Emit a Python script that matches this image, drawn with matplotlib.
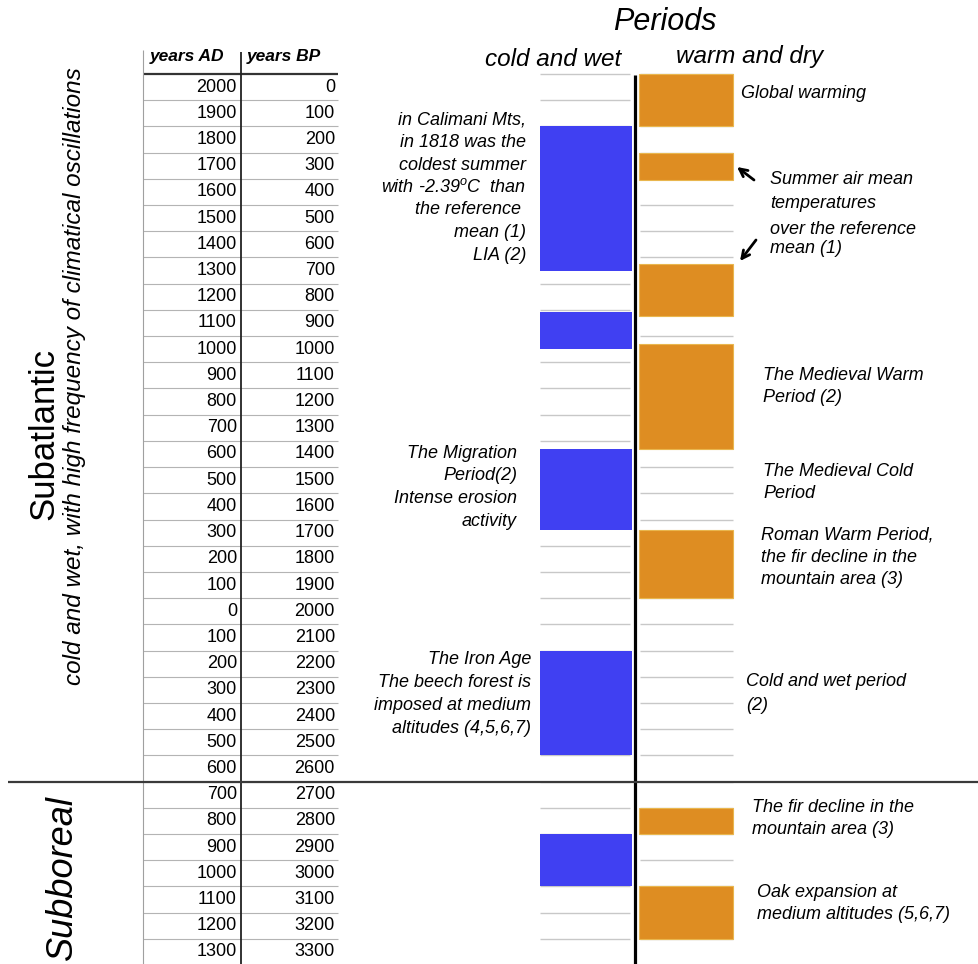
import matplotlib.pyplot as plt

plt.rcParams['font.family'] = ['Liberation Sans', 'DejaVu Sans']
plt.rcParams['mathtext.fontset'] = 'custom'
plt.rcParams['mathtext.rm'] = 'Liberation Sans'
plt.rcParams['mathtext.it'] = 'Liberation Sans:italic'

# table columns (years AD / BC shown without sign, years BP)
years_ad = ['2000', '1900', '1800', '1700', '1600', '1500', '1400', '1300', '1200',
            '1100', '1000', '900', '800', '700', '600', '500', '400', '300', '200',
            '100', '0', '100', '200', '300', '400', '500', '600', '700', '800', '900',
            '1000', '1100', '1200', '1300']
years_bp = [0, 100, 200, 300, 400, 500, 600, 700, 800, 900, 1000, 1100, 1200, 1300,
            1400, 1500, 1600, 1700, 1800, 1900, 2000, 2100, 2200, 2300, 2400, 2500,
            2600, 2700, 2800, 2900, 3000, 3100, 3200, 3300]

# periods in years BP (start, end)
warm_start = [-50, 250, 675, 980, 1690, 2750, 3050]
warm_end = [150, 355, 875, 1380, 1950, 2850, 3250]
cold_start = [150, 860, 1380, 2150, 2850]
cold_end = [700, 1000, 1690, 2550, 3050]
subatlantic_end = 2650

W, H = 979, 964
TOP = 74          # pixel row of table header rule
ROW = 891 / 34    # pixels per row (100 years)
BLUE = '#4040F2'
ORANGE = '#DE8D22'


def bp(y):
    # pixel row -> years BP on the axis
    return (y - TOP) / ROW * 100 - 50


fig = plt.figure(figsize=(9.79, 9.64), dpi=100)
ax = fig.add_axes([0, 0, 1, 1])
ax.set_xlim(0, W)
ax.set_ylim(bp(H), bp(0))
ax.axis('off')

bounds = [b - 50 for b in years_bp] + [years_bp[-1] + 50]

# table
ax.hlines(bounds[1:], 143, 338, color='#b4b4b4', lw=0.8)
ax.hlines(bounds[0], 143, 338, color='#333333', lw=1.6)
ax.vlines(143, bp(50), bp(H), color='#a0a0a0', lw=0.8)
ax.vlines(241, bp(52), bp(H), color='#222222', lw=1.3)
ax.text(150, bp(56), 'years AD', fontsize=12.5, fontweight='bold', style='italic',
        ha='left', va='center')
ax.text(247, bp(56), 'years BP', fontsize=12.5, fontweight='bold', style='italic',
        ha='left', va='center')
for ad, b in zip(years_ad, years_bp):
    ax.text(237, b, ad, ha='right', va='center', fontsize=13)
    ax.text(335, b, str(b), ha='right', va='center', fontsize=13)

# grid of the period columns (behind the bars)
ax.hlines(bounds, 540, 630, color='#c8c8c8', lw=1, zorder=1)
ax.hlines(bounds, 640, 733, color='#c8c8c8', lw=1, zorder=1)

ax.barh([(s + e) / 2 for s, e in zip(cold_start, cold_end)], 92, left=540,
        height=[e - s for s, e in zip(cold_start, cold_end)], color=BLUE, zorder=2)
ax.barh([(s + e) / 2 for s, e in zip(warm_start, warm_end)], 94, left=639,
        height=[e - s for s, e in zip(warm_start, warm_end)], color=ORANGE,
        edgecolor='#E9B64E', lw=0.8, zorder=2)

ax.vlines(635, bp(75), bp(H), color='black', lw=2.3, zorder=4)
ax.hlines(subatlantic_end, 8, W, color='#3a3a3a', lw=1.6, zorder=4)

# headers
ax.text(665, bp(22), 'Periods', fontsize=22, style='italic', ha='center', va='center')
ax.text(553, bp(59), 'cold and wet', fontsize=17.5, style='italic', ha='center', va='center')
ax.text(750, bp(57), 'warm and dry', fontsize=17.5, style='italic', ha='center', va='center')

# side labels
ax.text(44, bp(434), 'Subatlantic', fontsize=25, rotation=90, ha='center', va='center')
ax.text(75, bp(376), 'cold and wet, with high frequency of climatical oscillations',
        fontsize=17.5, style='italic', rotation=90, ha='center', va='center')
ax.text(62, bp(878), 'Subboreal', fontsize=26, style='italic', rotation=90,
        ha='center', va='center')

# annotations: (x, first line y, spacing, alignment, lines)
notes = [
    (526, 120, 22.5, 'right', ['in Calimani Mts,', 'in 1818 was the', 'coldest summer',
                               r'with -2.39$^{o}$C  than', 'the reference ', 'mean (1)',
                               'LIA (2)']),
    (517, 453, 22.7, 'right', ['The Migration', 'Period(2)', 'Intense erosion', 'activity']),
    (531, 659, 23.3, 'right', ['The Iron Age', 'The beech forest is', 'imposed at medium',
                               'altitudes (4,5,6,7)']),
    (741, 93, 22, 'left', ['Global warming']),
    (770, 180, 23, 'left', ['Summer air mean', 'temperatures']),
    (770, 229, 19.5, 'left', ['over the reference', 'mean (1)']),
    (763, 375, 22, 'left', ['The Medieval Warm', 'Period (2)']),
    (763, 472, 21.5, 'left', ['The Medieval Cold', 'Period']),
    (761, 535, 22.5, 'left', ['Roman Warm Period,', 'the fir decline in the',
                              'mountain area (3)']),
    (746, 682, 24, 'left', ['Cold and wet period', '(2)']),
    (752, 808, 22, 'left', ['The fir decline in the', 'mountain area (3)']),
    (757, 893, 22, 'left', ['Oak expansion at', 'medium altitudes (5,6,7)']),
]
for x, y0, dy, ha, lines in notes:
    for i, line in enumerate(lines):
        ax.text(x, bp(y0 + i * dy), line, fontsize=13, style='italic', ha=ha, va='center')

arrow = dict(arrowstyle='->', lw=2, color='black', shrinkA=0, shrinkB=0, mutation_scale=14)
ax.annotate('', xy=(737, bp(167)), xytext=(754, bp(180)), arrowprops=arrow)
ax.annotate('', xy=(740, bp(261)), xytext=(756, bp(240)), arrowprops=arrow)

fig.savefig('out.png', dpi=100)
